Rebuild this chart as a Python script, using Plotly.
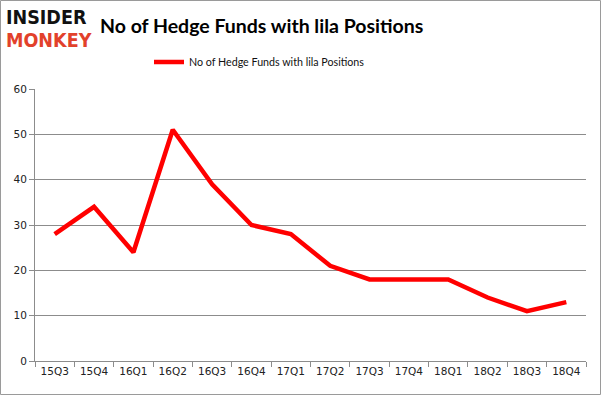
import plotly.graph_objects as go

quarters = ["15Q3", "15Q4", "16Q1", "16Q2", "16Q3", "16Q4", "17Q1", "17Q2",
            "17Q3", "17Q4", "18Q1", "18Q2", "18Q3", "18Q4"]
funds = [28, 34, 24, 51, 39, 30, 28, 21, 18, 18, 18, 14, 11, 13]
series_name = "No of Hedge Funds with lila Positions"
title_text = "No of Hedge Funds with lila Positions"

W, H = 601, 395
ML, MR, MT, MB = 35, 15, 89, 34
pw, ph = W - ML - MR, H - MT - MB

def px_x(x):
    return (x - ML) / pw

def px_y(y):
    return (H - MB - y) / ph

fig = go.Figure()
fig.add_trace(go.Scatter(
    x=quarters, y=funds, mode="lines", name=series_name,
    line=dict(color="#ff0000", width=4.5),
))

grid = "#8c8c8c"
fig.update_layout(
    width=W, height=H,
    margin=dict(l=ML, r=MR, t=MT, b=MB, autoexpand=False),
    paper_bgcolor="white", plot_bgcolor="white",
    showlegend=True,
    legend=dict(
        orientation="h", x=px_x(149), y=px_y(62), xanchor="left", yanchor="middle",
        font=dict(family="Lato, Open Sans, sans-serif", size=10.7, color="#111"),
        bgcolor="rgba(0,0,0,0)", itemwidth=30,
    ),
    xaxis=dict(
        type="category", showgrid=False, showline=True, linecolor=grid, linewidth=1,
        ticks="outside", tickson="boundaries", ticklen=5, tickcolor=grid,
        tickfont=dict(family="DejaVu Sans, sans-serif", size=10.5, color="#222"),
        range=[-0.5, len(quarters) - 0.5], fixedrange=True,
    ),
    yaxis=dict(
        range=[0, 60], dtick=10, showgrid=True, gridcolor=grid, gridwidth=1,
        showline=True, linecolor=grid, linewidth=1, ticks="outside", ticklen=5,
        tickcolor=grid, zeroline=False,
        tickfont=dict(family="DejaVu Sans, sans-serif", size=10.5, color="#222"),
        fixedrange=True,
    ),
    annotations=[
        dict(text="<b>" + title_text + "</b>", x=px_x(261), y=px_y(26), xref="paper", yref="paper",
             xanchor="center", yanchor="middle", showarrow=False,
             font=dict(family="Lato, Open Sans, sans-serif", size=19.5, color="#000"),
             ),
        dict(text="<b>INSIDER</b>", x=px_x(4), y=px_y(17), xref="paper", yref="paper",
             xanchor="left", yanchor="middle", showarrow=False,
             font=dict(family="DejaVu Sans Condensed, DejaVu Sans, sans-serif", size=19.5, color="#111")),
        dict(text="<b>MONKEY</b>", x=px_x(4), y=px_y(41), xref="paper", yref="paper",
             xanchor="left", yanchor="middle", showarrow=False,
             font=dict(family="DejaVu Sans Condensed, DejaVu Sans, sans-serif", size=19.5, color="#e2412b")),
    ],
    shapes=[
        dict(type="rect", xref="paper", yref="paper",
             x0=px_x(0.5), x1=px_x(W - 0.5), y0=px_y(0.5), y1=px_y(H - 0.5),
             line=dict(color="#9a9a9a", width=1), layer="below"),
    ],
)

fig.write_html("out.html", config={"displayModeBar": False},
               post_script="document.body.style.margin='0';document.body.style.overflow='hidden';")
